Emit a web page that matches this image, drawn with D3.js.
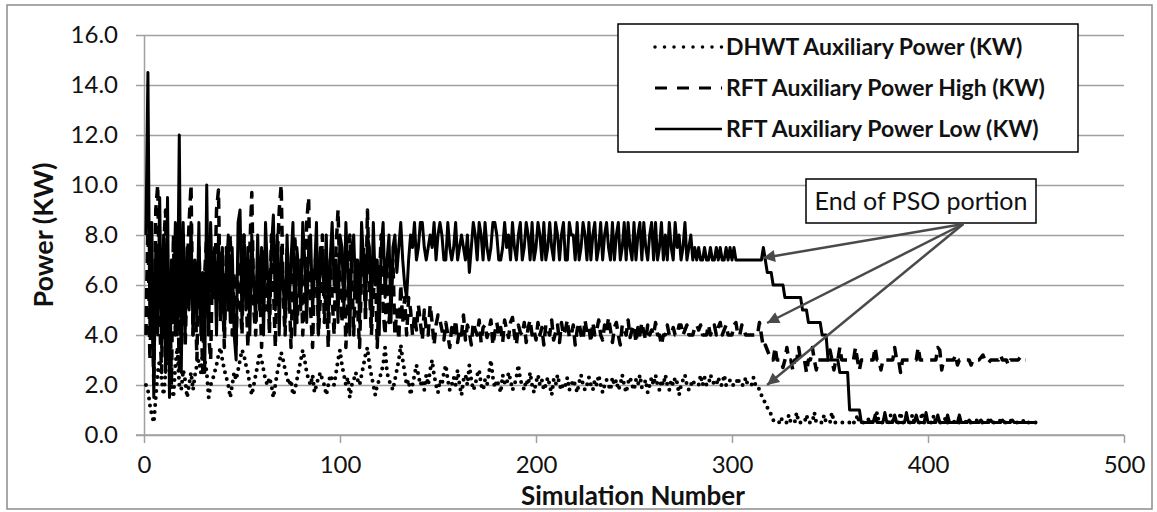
<!DOCTYPE html>
<html>
<head>
<meta charset="utf-8">
<script src="https://cdn.jsdelivr.net/npm/d3@7"></script>
<style>
  body { margin: 0; background: #fff; }
  svg { display: block; font-family: Lato, "Open Sans", sans-serif; }
</style>
</head>
<body>
<svg id="chart" width="1157" height="512"></svg>
<script>
// Auxiliary power per simulation run (KW); run numbers start at 1.
const dhwtPower = [
  2.0,1.8,1.2,0.8,0.5,1.5,2.5,3.0,2.2,1.6,
  2.5,3.5,3.0,2.0,1.5,2.8,3.5,2.0,1.8,2.6,
  2.2,1.5,2.0,2.5,1.8,2.4,2.8,3.0,2.5,3.4,
  3.0,2.5,1.5,2.0,2.2,2.5,2.8,3.2,3.5,3.0,
  2.6,2.3,2.0,1.5,2.0,2.5,2.2,2.6,3.0,3.4,
  3.2,2.8,2.5,2.0,1.6,2.0,2.4,2.8,3.3,3.0,
  2.6,2.2,2.0,2.3,2.0,1.5,2.0,2.5,2.9,3.3,
  3.0,2.6,2.3,2.0,2.2,1.6,1.8,2.2,2.6,3.0,
  3.4,3.0,2.5,2.2,2.0,2.4,1.7,2.0,2.3,2.5,
  2.2,2.0,1.6,2.0,2.4,2.2,2.0,2.5,3.0,3.4,
  2.8,2.4,2.0,2.3,1.5,2.0,2.2,2.5,2.2,2.0,
  2.4,2.8,3.2,3.5,2.8,2.4,2.0,1.6,2.0,2.2,
  2.5,2.8,3.5,2.5,2.2,2.0,1.8,2.2,2.6,3.0,
  3.6,3.0,2.5,2.0,2.2,1.6,2.0,2.4,2.8,2.4,
  2.0,2.2,1.8,2.4,2.0,2.6,3.0,2.4,2.0,1.7,
  2.2,2.0,2.5,2.8,2.2,1.8,2.0,2.3,2.0,2.6,
  2.0,1.6,2.2,2.4,2.0,2.8,2.2,1.8,2.0,2.4,
  2.6,2.0,1.8,2.2,2.0,2.5,3.0,2.3,1.9,2.2,
  2.0,1.7,2.4,2.1,2.0,2.5,2.2,1.8,2.0,2.3,
  2.8,2.2,2.0,1.8,2.2,2.0,2.5,2.0,1.7,2.1,
  2.4,2.0,2.2,1.8,2.0,2.3,2.0,1.6,2.2,2.0,
  2.4,2.0,1.8,2.1,2.0,2.3,1.8,2.0,2.2,2.0,
  1.7,2.1,2.4,2.0,1.8,2.0,2.3,2.0,1.8,2.2,
  2.0,2.4,2.0,1.7,2.0,2.2,2.0,1.8,2.3,2.0,
  2.2,1.8,2.0,2.4,2.0,1.7,2.1,2.3,2.0,1.8,
  2.2,2.0,2.4,1.9,2.0,2.2,1.7,2.0,2.3,2.0,
  2.4,2.0,1.8,2.2,2.0,2.4,2.0,1.8,2.2,2.0,
  2.3,2.1,1.6,2.0,2.2,2.4,2.0,1.8,2.0,2.2,
  2.0,2.0,2.0,2.4,2.0,2.3,2.0,2.0,2.4,2.2,
  2.0,2.0,2.3,2.0,2.0,2.4,2.0,2.0,2.2,2.0,
  2.0,2.0,2.3,2.0,2.0,2.0,2.3,2.0,2.0,2.0,
  2.3,2.0,2.0,1.8,1.6,1.4,1.3,1.1,1.0,0.8,
  0.6,0.5,0.5,0.5,0.7,0.5,0.5,0.5,0.8,0.5,
  0.5,0.5,0.9,0.5,0.5,0.5,0.5,0.8,0.5,0.5,
  0.5,0.9,0.5,0.5,0.5,0.5,0.8,0.5,0.5,0.5,
  0.9,0.5,0.5,0.5,0.5,0.5,0.5,0.5,0.5,0.5,
  0.6,0.5,0.5,0.8,0.5,0.5,0.5,0.5,0.5,0.7,
  0.5,0.5,0.5,0.9,0.5,0.5,0.5,0.5,0.5,0.5,
  0.8,0.5,0.5,0.5,0.5,0.9,0.5,0.5,0.5,0.5,
  0.5,0.8,0.5,0.5,0.5,0.5,0.9,0.5,0.5,0.5,
  0.5,0.5,0.8,0.5,0.5,0.5,0.5,0.5,0.7,0.5,
  0.5,0.5,0.5,0.6,0.5,0.5,0.5,0.5,0.5,0.6,
  0.5,0.5,0.5,0.5,0.6,0.5,0.5,0.5,0.5,0.5,
  0.6,0.5,0.5,0.5,0.5,0.5,0.6,0.5,0.5,0.5,
  0.5,0.6,0.5,0.5,0.5,0.5,0.5,0.5,0.6,0.5,
  0.5,0.5,0.5,0.5,0.5
];

const rftHighPower = [
  4.0,8.5,3.0,6.0,2.0,9.0,10.0,4.5,2.5,7.5,
  9.0,3.0,6.5,2.0,8.0,4.0,7.0,2.5,5.5,8.0,
  3.5,6.5,8.5,10.0,4.0,6.0,3.0,7.5,5.0,2.5,
  6.5,8.0,4.0,3.0,7.0,5.5,9.0,9.8,4.5,6.0,
  3.5,7.5,5.0,8.0,4.0,6.5,3.5,7.0,5.5,4.0,
  8.0,6.0,3.5,7.5,9.7,5.0,4.0,7.0,6.0,3.5,
  7.5,5.0,6.5,4.0,8.0,6.0,3.5,7.0,9.0,10.0,
  5.5,4.0,7.5,6.0,3.5,6.5,8.0,4.5,5.5,7.0,
  4.0,6.0,8.5,9.5,5.0,3.5,6.5,7.5,4.0,5.5,
  8.0,4.5,6.0,3.5,7.0,5.5,4.0,7.5,9.0,6.0,
  4.5,7.0,3.5,5.5,8.0,6.5,4.0,7.0,5.0,3.5,
  6.5,7.5,4.5,9.0,6.0,4.0,5.5,7.0,3.5,6.0,
  8.0,5.0,4.0,6.5,4.5,5.5,7.0,4.0,5.0,3.8,
  6.0,4.5,5.5,4.0,5.5,5.0,4.0,4.8,4.2,5.2,
  4.5,3.8,5.0,4.2,4.0,5.2,4.5,3.6,4.4,4.8,
  4.6,4.2,3.8,4.5,4.0,3.5,4.3,4.0,4.6,3.7,
  4.2,4.0,4.8,3.8,4.4,4.1,3.6,4.5,4.2,4.0,
  4.6,3.7,4.3,4.4,3.9,4.2,4.6,3.6,4.1,4.5,
  4.0,4.3,3.7,4.6,4.2,3.9,4.5,4.7,4.0,3.6,
  4.4,4.1,4.0,4.5,3.7,4.3,4.6,4.0,4.2,3.8,
  4.5,4.0,4.3,3.6,4.4,4.2,4.0,4.6,3.8,4.1,
  4.4,3.7,4.5,4.0,4.2,4.6,3.9,4.0,4.4,3.6,
  4.2,4.5,4.0,3.8,4.6,4.1,4.3,3.7,4.5,4.0,
  4.2,4.6,4.0,3.8,4.4,4.1,4.7,4.2,3.7,4.3,
  4.5,4.0,3.6,4.4,4.2,4.0,4.6,3.9,4.2,4.4,
  3.7,4.3,4.0,4.5,4.1,3.8,4.4,4.0,4.2,4.0,
  4.5,4.0,4.0,3.6,4.0,4.0,4.4,4.0,4.0,4.3,
  4.0,4.0,4.4,4.4,4.0,4.2,4.4,4.0,4.0,4.0,
  4.3,4.4,4.2,4.4,4.0,4.0,4.0,4.4,4.0,4.2,
  4.4,4.0,4.3,4.5,4.0,4.2,4.4,4.0,4.0,4.0,
  4.4,4.5,4.0,4.0,4.4,4.2,4.0,4.0,4.0,4.0,
  4.0,4.0,4.0,4.5,4.0,3.5,3.6,3.4,3.2,3.0,
  3.0,3.5,3.0,3.0,3.0,2.7,3.0,3.5,3.0,3.0,
  2.6,3.0,3.0,3.5,3.0,3.0,3.0,2.5,3.0,3.0,
  3.5,3.0,2.6,3.0,3.0,3.0,3.0,3.0,3.0,3.4,
  3.0,2.6,3.0,3.0,3.5,3.0,3.0,3.0,3.0,3.0,
  3.0,3.0,3.5,3.0,2.6,3.0,3.0,3.0,3.0,3.0,
  3.0,3.0,3.5,3.0,3.0,2.6,3.0,3.0,3.0,3.0,
  3.0,3.0,3.5,3.0,3.0,2.5,3.0,3.0,3.0,3.0,
  3.0,3.0,3.0,3.0,3.5,3.0,3.0,3.0,3.0,3.0,
  3.0,3.0,3.0,3.0,3.5,3.4,2.6,3.0,3.0,3.0,
  3.0,3.0,3.0,3.2,2.8,3.0,3.0,3.0,3.0,3.0,
  3.0,2.8,3.0,3.0,3.0,3.0,3.1,3.2,3.0,3.0,
  2.9,3.0,3.0,3.0,3.0,3.0,3.2,3.0,3.0,3.0,
  2.8,3.0,3.0,3.0,3.0,3.0,3.1,3.0,3.0,3.0
];

const rftLowPower = [
  8.0,14.5,4.0,8.5,1.5,7.5,4.0,9.5,3.5,8.0,
  2.5,9.5,1.5,7.0,4.5,8.5,4.0,12.0,2.5,8.5,
  4.0,7.5,5.0,8.5,4.0,7.0,4.5,8.5,4.0,6.5,
  2.5,10.0,4.0,8.5,5.5,7.5,4.0,8.0,5.0,7.5,
  4.0,6.5,8.0,4.5,7.5,4.0,3.0,8.5,9.0,4.5,
  8.0,5.0,7.5,4.0,8.0,6.0,4.5,8.0,5.0,7.5,
  4.0,8.5,6.5,4.5,7.5,8.8,5.0,8.0,4.0,7.5,
  6.0,4.5,8.0,5.0,7.0,8.5,4.0,7.5,6.5,5.0,
  8.5,7.0,4.5,7.5,8.0,5.0,6.5,8.5,4.0,7.5,
  7.0,5.5,8.0,4.5,7.0,8.5,6.0,7.0,4.5,8.0,
  7.5,5.0,8.5,6.5,4.0,7.5,8.0,5.5,7.0,4.5,
  8.5,7.0,5.0,8.0,7.5,4.5,8.5,6.0,7.0,4.0,
  7.5,8.5,5.5,7.0,8.0,4.5,7.5,8.0,6.5,7.5,
  8.5,7.0,6.0,5.5,7.0,8.0,7.5,8.5,7.0,7.5,
  8.5,8.5,7.5,7.0,7.5,8.0,7.5,8.5,7.0,8.0,
  8.5,8.0,7.0,7.0,8.5,7.5,7.0,7.5,8.5,7.0,
  7.5,8.0,7.5,7.0,8.0,6.5,7.5,8.5,8.0,7.0,
  8.5,8.0,7.0,8.5,7.5,7.0,7.5,8.5,8.5,8.0,
  7.0,7.0,7.5,8.5,7.5,8.0,7.0,8.5,7.5,7.0,
  8.0,8.5,7.0,7.5,8.5,8.0,7.0,8.5,7.0,7.5,
  8.5,8.0,7.0,8.5,7.0,7.5,8.5,7.5,7.0,8.5,
  8.0,7.0,8.0,8.5,7.0,7.0,8.5,8.0,8.0,7.0,
  8.5,7.0,7.5,8.5,8.0,7.0,8.5,7.0,8.0,8.5,
  7.0,7.5,8.5,7.0,8.0,8.5,7.5,7.0,8.5,7.0,
  8.0,8.5,7.0,7.5,8.5,7.0,8.5,7.5,7.0,8.5,
  7.0,8.0,8.5,7.0,8.5,7.5,7.0,8.0,8.5,7.0,
  8.5,7.0,7.5,8.5,7.0,8.0,7.0,8.5,7.5,7.0,
  8.5,7.5,8.0,7.0,7.5,8.5,7.0,7.5,8.0,7.0,
  7.5,7.0,7.5,7.0,7.0,7.5,7.0,7.0,7.5,7.0,
  7.0,7.5,7.0,7.5,7.0,7.0,7.5,7.0,7.5,7.0,
  7.5,7.0,7.0,7.0,7.0,7.0,7.0,7.0,7.0,7.0,
  7.0,7.0,7.0,7.0,7.0,7.5,7.0,6.5,6.5,6.5,
  6.0,6.0,6.0,6.0,6.0,6.0,5.5,5.5,5.5,5.5,
  5.5,5.5,5.5,5.5,5.5,5.0,5.0,5.0,4.5,4.5,
  4.5,4.5,4.5,4.5,4.5,4.0,4.0,4.0,3.0,3.0,
  3.0,3.0,3.0,3.0,2.5,2.5,2.5,2.5,2.5,1.0,
  1.0,1.0,1.0,1.0,1.0,0.5,0.5,0.5,0.5,0.5,
  0.5,0.5,0.8,0.5,0.5,0.5,0.5,0.9,0.5,0.5,
  0.5,0.5,0.8,0.5,0.5,0.5,0.5,0.5,0.9,0.5,
  0.5,0.5,0.5,0.8,0.5,0.5,0.5,0.5,0.9,0.5,
  0.5,0.5,0.5,0.5,0.8,0.5,0.5,0.5,0.5,0.8,
  0.5,0.5,0.5,0.5,0.5,0.8,0.5,0.5,0.5,0.5,
  0.6,0.5,0.5,0.5,0.5,0.5,0.6,0.5,0.5,0.5,
  0.5,0.6,0.5,0.5,0.5,0.5,0.5,0.6,0.5,0.5,
  0.5,0.5,0.6,0.5,0.5,0.5,0.5,0.5,0.5,0.5,
  0.5,0.5,0.5,0.5,0.5
];

const seriesLabels = [
  "DHWT Auxiliary Power (KW)",
  "RFT Auxiliary Power High (KW)",
  "RFT Auxiliary Power Low (KW)"
];
const xTickValues = [0, 100, 200, 300, 400, 500];
const yTickValues = [0, 2, 4, 6, 8, 10, 12, 14, 16];
const xAxisTitle = "Simulation Number";
const yAxisTitle = "Power (KW)";
const calloutText = "End of PSO portion";
// Callout anchor (simulation, power) and the three points it points at.
const calloutOrigin = [418, 8.44];
const calloutTargets = [[315.8, 7.08], [317.9, 4.48], [317.9, 2.0]];

const svg = d3.select("#chart");
const W = 1157, H = 512;
const plot = { left: 144, right: 1124, top: 35, bottom: 435 };

const x = d3.scaleLinear().domain([0, 500]).range([plot.left, plot.right]);
const y = d3.scaleLinear().domain([0, 16]).range([plot.bottom, plot.top]);

const gridColor = "#a0a0a0";

// Outer chart frame
svg.append("rect")
  .attr("x", 7).attr("y", 5).attr("width", W - 12).attr("height", H - 8)
  .attr("fill", "#fff").attr("stroke", "#8c8c8c").attr("stroke-width", 1.5);

// Horizontal gridlines with left tick marks
const yAxis = d3.axisLeft(y).tickValues(yTickValues)
  .tickSize(-(plot.right - plot.left)).tickSizeOuter(0)
  .tickFormat(d3.format(".1f")).tickPadding(26);
const gy = svg.append("g").attr("transform", `translate(${plot.left},0)`).call(yAxis);
gy.select(".domain").attr("stroke", gridColor).attr("stroke-width", 1.5);
gy.selectAll(".tick line").attr("stroke", gridColor).attr("stroke-width", 1.5)
  .attr("x1", -8);
gy.selectAll(".tick text").attr("font-size", 24).attr("fill", "#111")
  .attr("font-family", "Lato, sans-serif");

// Bottom axis
const xAxis = d3.axisBottom(x).tickValues(xTickValues).tickSize(8).tickSizeOuter(0)
  .tickFormat(d3.format("d")).tickPadding(13);
const gx = svg.append("g").attr("transform", `translate(0,${plot.bottom})`).call(xAxis);
gx.select(".domain").attr("stroke", gridColor).attr("stroke-width", 1.5)
  .attr("d", `M${plot.left - 8},0H${plot.right}`);
gx.selectAll(".tick line").attr("stroke", gridColor).attr("stroke-width", 1.5);
gx.selectAll(".tick text").attr("font-size", 24).attr("fill", "#111")
  .attr("font-family", "Lato, sans-serif");

// Axis titles
svg.append("text")
  .attr("x", (plot.left + plot.right) / 2 - 1).attr("y", 505)
  .attr("text-anchor", "middle").attr("font-weight", "bold").attr("font-size", 26)
  .attr("fill", "#111").text(xAxisTitle);
svg.append("text")
  .attr("transform", `translate(53,${(plot.top + plot.bottom) / 2}) rotate(-90)`)
  .attr("text-anchor", "middle").attr("font-weight", "bold").attr("font-size", 27)
  .attr("fill", "#111").text(yAxisTitle);

// Series
const styles = [
  { data: dhwtPower, dash: "0 7", width: 4, cap: "round" },
  { data: rftHighPower, dash: "11 7", width: 3.5, cap: "butt" },
  { data: rftLowPower, dash: null, width: 3, cap: "butt" }
];
const line = d3.line().x((d, i) => x(i + 1)).y(d => y(d));
styles.forEach(s => {
  svg.append("path")
    .datum(s.data)
    .attr("d", line)
    .attr("fill", "none")
    .attr("stroke", "#000")
    .attr("stroke-width", s.width)
    .attr("stroke-linecap", s.cap)
    .attr("stroke-linejoin", "round")
    .attr("stroke-dasharray", s.dash);
});

// Legend
const legend = svg.append("g");
legend.append("rect")
  .attr("x", 618).attr("y", 24).attr("width", 460).attr("height", 128)
  .attr("fill", "#fff").attr("stroke", "#000").attr("stroke-width", 1.5);
const rowY = [47, 88, 129];
const legendDash = ["0 9.5", "12 10", null];
styles.forEach((s, i) => {
  legend.append("line")
    .attr("x1", 655).attr("x2", 722).attr("y1", rowY[i]).attr("y2", rowY[i])
    .attr("stroke", "#000").attr("stroke-width", s.width - 0.5)
    .attr("stroke-linecap", s.cap).attr("stroke-dasharray", legendDash[i]);
  legend.append("text")
    .attr("x", 726).attr("y", rowY[i] + 8)
    .attr("font-weight", "bold").attr("font-size", 23).attr("fill", "#111")
    .text(seriesLabels[i]);
});

// Callout box with arrows
const defs = svg.append("defs");
defs.append("marker")
  .attr("id", "arrowhead").attr("viewBox", "0 0 10 10")
  .attr("refX", 10).attr("refY", 5)
  .attr("markerWidth", 15).attr("markerHeight", 12)
  .attr("markerUnits", "userSpaceOnUse")
  .attr("orient", "auto")
  .append("path").attr("d", "M0,0L10,5L0,10z").attr("fill", "#4a4a4a");

svg.append("rect")
  .attr("x", 806).attr("y", 179).attr("width", 230).attr("height", 44)
  .attr("fill", "#fff").attr("stroke", "#000").attr("stroke-width", 1.5);
svg.append("text")
  .attr("x", 921).attr("y", 210).attr("text-anchor", "middle")
  .attr("font-size", 25).attr("fill", "#111").text(calloutText);

calloutTargets.forEach(t => {
  svg.append("line")
    .attr("x1", x(calloutOrigin[0])).attr("y1", y(calloutOrigin[1]))
    .attr("x2", x(t[0])).attr("y2", y(t[1]))
    .attr("stroke", "#4a4a4a").attr("stroke-width", 2.5)
    .attr("marker-end", "url(#arrowhead)");
});
</script>
</body>
</html>
